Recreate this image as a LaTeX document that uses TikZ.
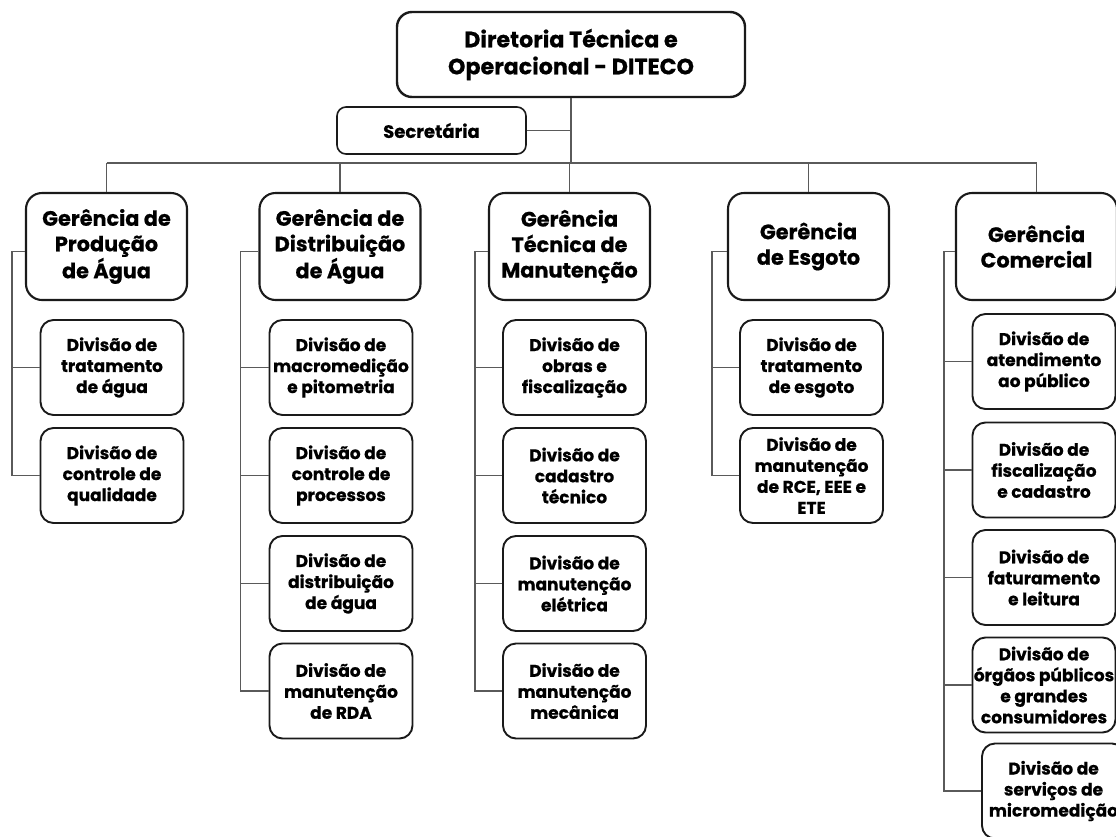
\documentclass[tikz,border=0pt]{standalone}
\usepackage{fontspec}
\setmainfont{Poppins}[BoldFeatures={FakeBold=0.6}]
\usepackage{xcolor}
\usetikzlibrary{positioning}
\definecolor{orgline}{RGB}{90, 90, 90}
\definecolor{orgborder}{RGB}{26, 26, 26}

\begin{document}
\begin{tikzpicture}[
    x=1pt, y=-1pt,
    box/.style={
        rectangle,
        rounded corners=13pt,
        draw=orgborder,
        fill=white,
        line width=1.9pt,
        inner sep=0pt,
        align=center,
        font=\bfseries
    },
    topbox/.style={
        box,
        rounded corners=15pt,
        line width=2.4pt,
        minimum width=348pt,
        minimum height=85pt,
        font=\bfseries\fontsize{22.2}{27}\selectfont
    },
    secbox/.style={
        box,
        rounded corners=9pt,
        line width=1.6pt,
        minimum width=189pt,
        minimum height=47pt,
        font=\bfseries\fontsize{18}{20}\selectfont
    },
    manager/.style={
        box,
        rounded corners=16pt,
        line width=2.1pt,
        minimum width=161pt,
        minimum height=107pt,
        font=\bfseries\fontsize{20.8}{25.5}\selectfont
    },
    division/.style={
        box,
        minimum width=143pt,
        minimum height=95pt,
        font=\bfseries\fontsize{17}{21}\selectfont
    },
    link/.style={
        draw=orgline,
        line width=1.3pt
    }
]

% Background
\fill[white] (0,0) rectangle (1116,836);
\useasboundingbox (0,0) rectangle (1116,836);

% Direction
\node[topbox] (top) at (571,54.5) {Diretoria Técnica e\\Operacional - DITECO};
\node[secbox] (sec) at (431.5,130.5) {Secretária};
\coordinate (bus) at (571,163);

% Managements
\node[manager] (g1) at (106.5,246.5) {Gerência de\\Produção\\de Água};
\node[manager] (g2) at (340,246.5) {Gerência de\\Distribuição\\de Água};
\node[manager] (g3) at (569.5,246.5) {Gerência\\Técnica de\\Manutenção};
\node[manager] (g4) at (808.5,246.5) {Gerência\\de Esgoto};
\node[manager] (g5) at (1036.5,246.5) {Gerência\\Comercial};

% Divisions - Produção
\node[division] (d11) at (112,367.5) {Divisão de\\tratamento\\de água};
\node[division] (d12) at (112,475.5) {Divisão de\\controle de\\qualidade};

% Divisions - Distribuição
\node[division] (d21) at (341,367.5) {Divisão de\\macromedição\\e pitometria};
\node[division] (d22) at (341,475.5) {Divisão de\\controle de\\processos};
\node[division] (d23) at (341,583.5) {Divisão de\\distribuição\\de água};
\node[division] (d24) at (341,691) {Divisão de\\manutenção\\de RDA};

% Divisions - Manutenção
\node[division] (d31) at (574.5,367.5) {Divisão de\\obras e\\fiscalização};
\node[division] (d32) at (574.5,475.5) {Divisão de\\cadastro\\técnico};
\node[division] (d33) at (574.5,583.5) {Divisão de\\manutenção\\elétrica};
\node[division] (d34) at (574.5,691) {Divisão de\\manutenção\\mecânica};

% Divisions - Esgoto
\node[division] (d41) at (811.5,367.5) {Divisão de\\tratamento\\de esgoto};
\node[division] (d42) at (811.5,475.5) {Divisão de\\manutenção\\de RCE, EEE e\\ETE};

% Divisions - Comercial
\node[division] (d51) at (1044,361.5) {Divisão de\\atendimento\\ao público};
\node[division] (d52) at (1044,470) {Divisão de\\fiscalização\\e cadastro};
\node[division] (d53) at (1044,577.5) {Divisão de\\faturamento\\e leitura};
\node[division] (d54) at (1044,685) {Divisão de\\órgãos públicos\\e grandes\\consumidores};
\node[division] (d55) at (1053.5,791) {Divisão de\\serviços de\\micromedição};

% Links
\draw[link] (top.south) -- (top.south |- bus);
\draw[link] (sec.east) -- (sec.east -| top.south);
\draw[link] (g1.north |- bus) -- (g5.north |- bus);
\foreach \g in {g1,g2,g3,g4,g5}
    \draw[link] (\g.north |- bus) -- (\g.north);

\foreach \c/\n/\dx in {1/2/13, 2/4/18, 3/4/13, 4/2/15, 5/5/11} {
    \draw[link] ([yshift=-5pt]g\c.west) -- ++(-\dx,0) coordinate (s\c) |- (d\c\n.west);
    \foreach \k in {1,...,\n}
        \draw[link] (d\c\k.west) -- (d\c\k.west -| s\c);
}

\end{tikzpicture}
\end{document}
